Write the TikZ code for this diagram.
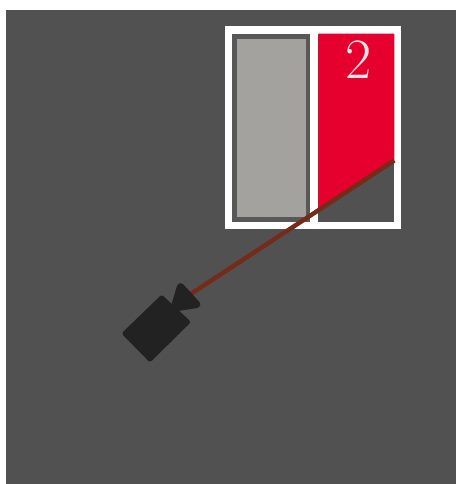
\documentclass[tikz,border=0pt]{standalone}
\usepackage{fontspec}
\definecolor{bgc}{HTML}{515151}
\definecolor{panelc}{HTML}{A3A29F}
\definecolor{edgec}{HTML}{585858}
\definecolor{redc}{HTML}{E6002E}
\definecolor{beamc}{HTML}{752A1A}
\definecolor{camc}{HTML}{222222}
\begin{document}
\begin{tikzpicture}[x=1pt,y=-1pt]
\useasboundingbox (0,0) rectangle (456,484);
\fill[white] (0,0) rectangle (456,484);
\fill[bgc] (6,10) rectangle (456,484);
% screen frame
\fill[white] (224.5,25.7) rectangle (400.5,229.3);
% left panel
\fill[edgec] (232.3,33.7) rectangle (310.3,221.7);
\fill[panelc] (237,38.7) rectangle (306,217);
% right panel
\fill[bgc] (318.3,33.7) rectangle (394.3,221.7);
\fill[redc] (318.3,33.7) -- (394.3,33.7) -- (394.3,160.5) -- (318.3,210) -- cycle;
\node[text=white!90!redc,font=\fontsize{57}{57}\selectfont,inner sep=0pt] (digit) at (358.5,60) {2};
% camera and beam
\coordinate (lens) at (190,294.5);
\coordinate (beamend) at (394.3,160.5);
\draw[beamc,line width=4.4pt] (lens) -- (beamend);
\fill[camc,draw=camc,line width=7pt,line join=round] (180.5,286.5) -- (197,304.5) -- (174,308) -- cycle;
\fill[camc,draw=camc,line width=5pt,line join=round] (161.7,298) -- (187.5,322) -- (150,359) -- (125,333.5) -- cycle;
\end{tikzpicture}
\end{document}
